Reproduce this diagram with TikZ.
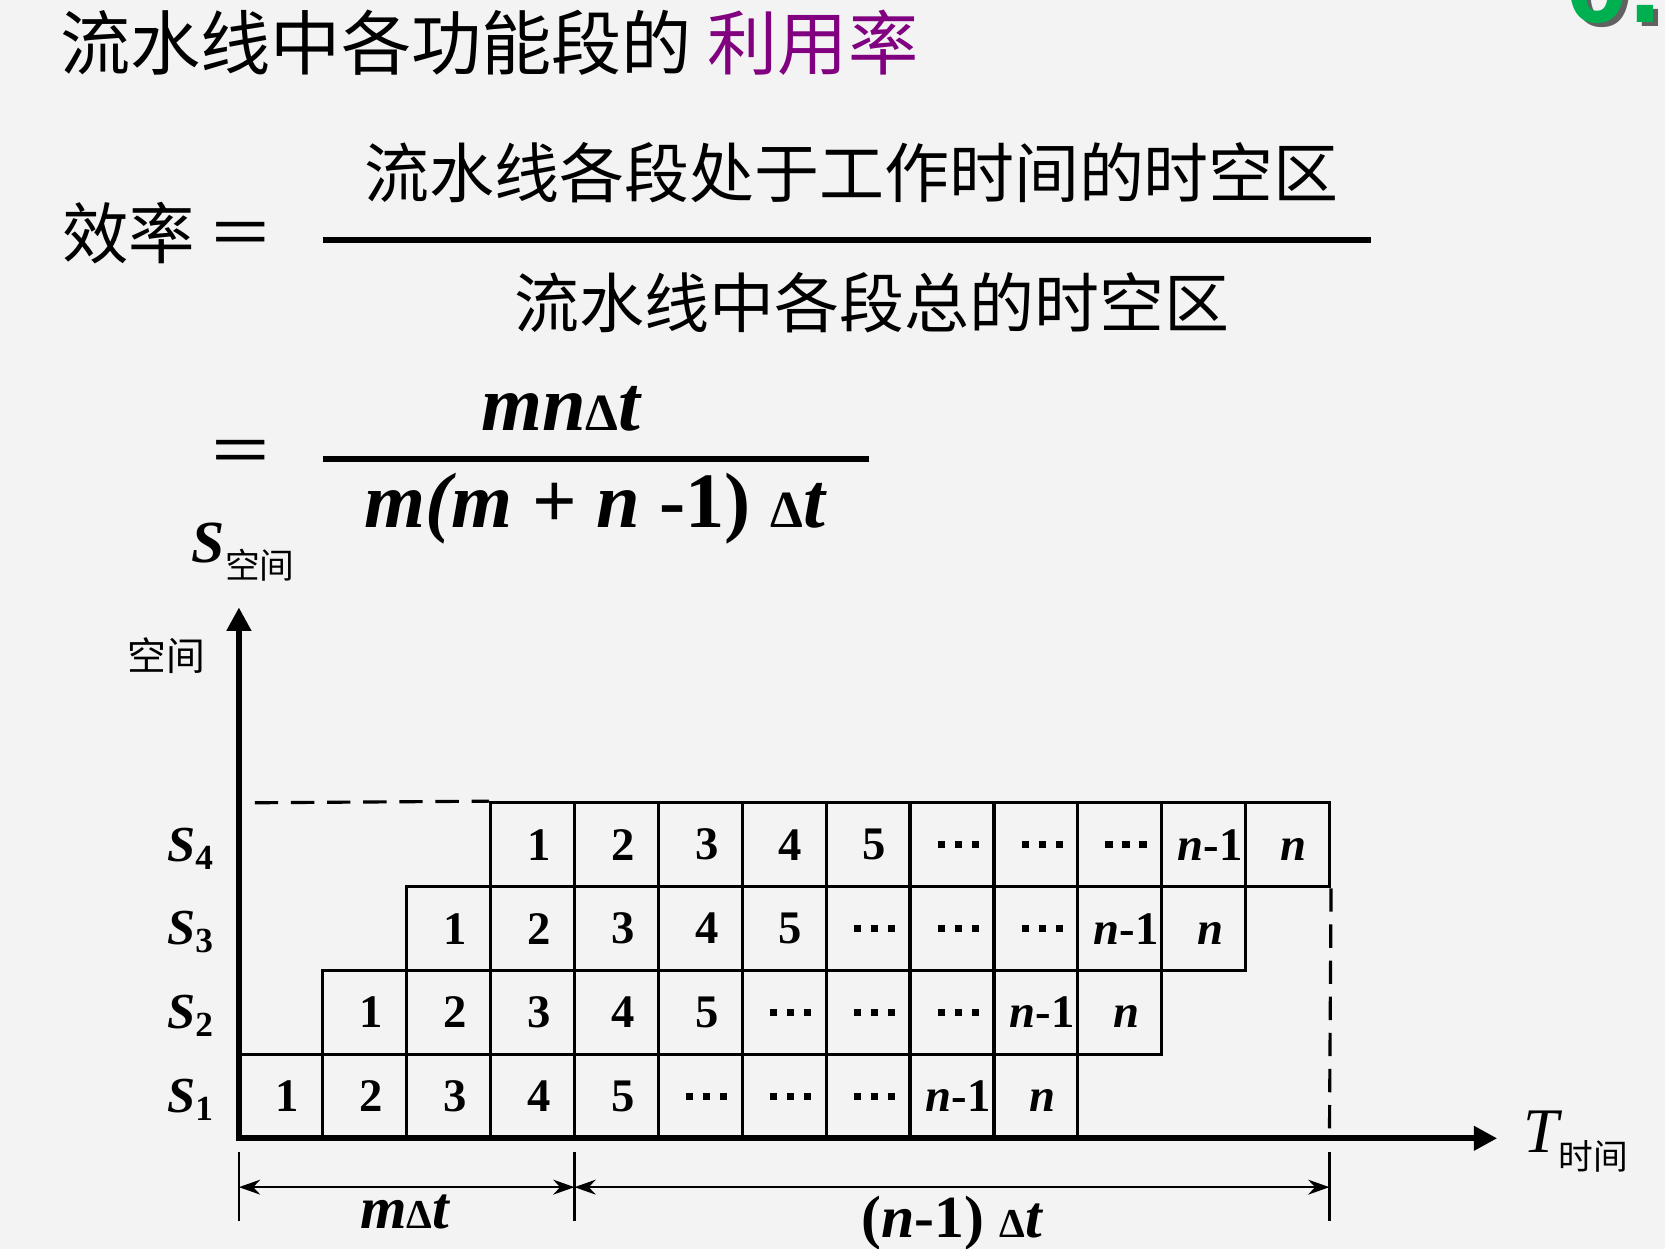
\documentclass[tikz,border=0pt]{standalone}
\usepackage{fontspec}
\setmainfont{Liberation Serif}
\newfontfamily\cjk{Noto Sans CJK SC}
\newfontfamily\headsans{Liberation Sans}
\usetikzlibrary{arrows.meta}
\definecolor{slidebg}{RGB}{243,243,243}
\definecolor{ratepurple}{RGB}{128,0,128}
\definecolor{numgreen}{RGB}{0,176,80}
\newcommand\mdots{\rule{0.07cm}{0.07cm}\hspace{0.09cm}\rule{0.07cm}{0.07cm}\hspace{0.09cm}\rule{0.07cm}{0.07cm}}

\begin{document}
\begin{tikzpicture}[
        x = 0.01cm, y = -0.01cm,
        cjkbig/.style = {inner sep = 0, font = \cjk\fontsize{17.4}{20}\selectfont},
        cjksmall/.style = {inner sep = 0, font = \cjk\fontsize{10.4}{12}\selectfont},
        mathtext/.style = {inner sep = 0, font = \fontsize{21}{22}\selectfont\bfseries},
        dimlabel/.style = {inner sep = 0, font = \fontsize{16}{18}\selectfont\bfseries},
        stagelabel/.style = {inner sep = 0, anchor = east, font = \fontsize{13.5}{14}\selectfont\bfseries\itshape},
        cell/.style = {draw, line width = 0.85pt, minimum width = 0.79cm, minimum height = 0.79cm, inner sep = 0pt, font = \fontsize{12.5}{14}\selectfont\bfseries},
        fracbar/.style = {line width = 1.6pt},
        axis/.style = {line width = 1.7pt, {Triangle[length = 0.22cm, width = 0.22cm]}-{Triangle[length = 0.22cm, width = 0.22cm]}},
        dimline/.style = {line width = 0.7pt, {Stealth[length = 0.2cm, width = 0.14cm]}-{Stealth[length = 0.2cm, width = 0.14cm]}},
        tickline/.style = {line width = 0.7pt},
        guide/.style = {line width = 0.85pt, dash pattern = on 0.22cm off 0.12cm}
    ]
        \fill[slidebg] (0,0) rectangle (1568,1176);
        \useasboundingbox (0,0) rectangle (1568,1176);

        % section number, cut off by the page edge
        \node[anchor = base west, inner sep = 0, text = black, opacity = 0.6, font = \headsans\bfseries\fontsize{30.8}{31}\selectfont] at (1478,25) {0.};
        \node[anchor = base west, inner sep = 0, text = numgreen, font = \headsans\bfseries\fontsize{30.8}{31}\selectfont] (secnum) at (1474,21) {0.};

        \node[anchor = west, inner sep = 0, font = \cjk\fontsize{18.8}{20}\selectfont] (title) at (56,40) {流水线中各功能段的 {\color{ratepurple}利用率}};

        \node[anchor = west, inner sep = 0, font = \cjk\fontsize{17.8}{20}\selectfont] (eff) at (58,220) {效率};
        \node[inner sep = 0, font = \cjk\fontsize{17.8}{20}\selectfont] (eqa) at (227,226) {＝};
        \node[cjkbig] (busy) at (802,163) {流水线各段处于工作时间的时空区};
        \node[cjkbig] (total) at (821,285) {流水线中各段总的时空区};
        \draw[fracbar] (304,226) -- (1291,226);

        \node[inner sep = 0, font = \cjk\fontsize{17.8}{20}\selectfont] (eqb) at (227,431) {＝};
        \node[mathtext, anchor = base] (mnt) at (529,405) {\textit{mn}{\fontsize{14}{14}\selectfont Δ}\textit{t}};
        \node[mathtext, anchor = base] (mmn) at (561,497) {\textit{m(m} + \textit{n} -1) {\fontsize{14}{14}\selectfont Δ}\textit{t}};
        \draw[fracbar] (304,432) -- (818,432);

        % space-time diagram
        \node[anchor = base west, inner sep = 0] (slab) at (180,530) {\fontsize{16}{18}\selectfont\bfseries\itshape S\cjk\mdseries\upshape\fontsize{9.3}{10}\selectfont\raisebox{-0.45em}{空间}};
        \node[cjksmall] (space) at (157,617) {空间};

        \coordinate (ytop) at (225,572);
        \coordinate (origin) at (225,1072);
        \coordinate (xend) at (1410,1072);
        \draw[axis] (ytop) -- (origin) -- (xend);
        \node[anchor = base west, inner sep = 0] (tlab) at (1434,1085) {\fontsize{17}{18}\selectfont\itshape T\cjk\upshape\fontsize{9.3}{10}\selectfont\raisebox{-0.5em}{时间}};

        \foreach \row in {0,...,3}{
            \foreach \lab [count = \k from 0] in {1,2,3,4,5,\mdots,\mdots,\mdots,\textit{n}-1,\textit{n}\vphantom{1}}{
                \node[cell] (c\row-\k) at ({264.5 + 79*(\row+\k)}, {1032.5 - 79*\row}) {\hspace{0.12cm}\lab};
            }
            \pgfmathtruncatemacro{\stage}{\row+1}
            \node[stagelabel] (s\stage) at (203, {1036 - 79*\row}) {S\textsubscript{\upshape\stage}};
        }

        \draw[guide] (240,756) -- (c3-0.north west);
        \draw[guide] (c3-9.south east) -- (1252,1072);

        \coordinate (d1) at (225,1118);
        \coordinate (d2) at (541,1118);
        \coordinate (d3) at (1252,1118);
        \foreach \d in {d1,d2,d3}
            \draw[tickline] ([yshift = 0.33cm] \d) -- ([yshift = -0.32cm] \d);
        \draw[dimline] (d1) -- (d2);
        \draw[dimline] (d2) -- (d3);
        \node[dimlabel] (mdt) at (382,1141) {\textit{m}{\fontsize{11}{11}\selectfont Δ}\textit{t}};
        \node[dimlabel] (ndt) at (897,1152) {(\textit{n}-1) {\fontsize{11}{11}\selectfont Δ}\textit{t}};
\end{tikzpicture}
\end{document}
